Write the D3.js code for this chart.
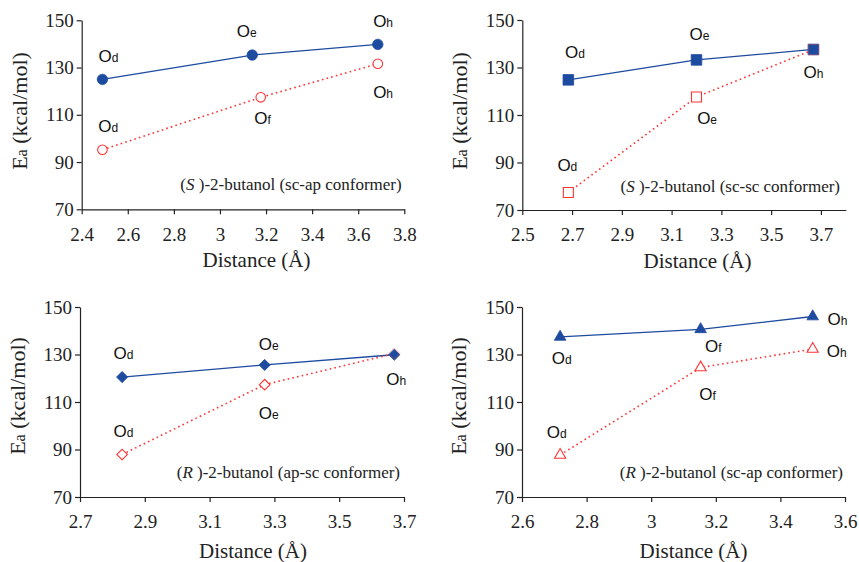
<!DOCTYPE html>
<html><head><meta charset="utf-8">
<script src="https://cdn.jsdelivr.net/npm/d3@7"></script>
<style>
body{margin:0;background:#fff}svg{display:block}
.serif{font-family:"Liberation Serif","Times New Roman","Nimbus Roman","DejaVu Serif",serif}
.sans{font-family:"Liberation Sans",Arial,Helvetica,sans-serif}
</style>
</head><body>
<svg id="c" width="859" height="562"></svg>
<script>
// ---------- data ----------
const yTicks = [70, 90, 110, 130, 150];

// Panel 1: (S)-2-butanol (sc-ap conformer)
const p1Ticks = [2.4, 2.6, 2.8, 3.0, 3.2, 3.4, 3.6, 3.8];
const p1BlueX = [2.49, 3.14, 3.685];
const p1Blue  = [125.0, 135.3, 139.8];
const p1RedX  = [2.49, 3.177, 3.685];
const p1Red   = [95.2, 117.4, 131.6];
const p1BlueLab = ["d", "e", "h"];
const p1RedLab  = ["d", "f", "h"];

// Panel 2: (S)-2-butanol (sc-sc conformer)
const p2Ticks = [2.5, 2.7, 2.9, 3.1, 3.3, 3.5, 3.7];
const p2BlueX = [2.685, 3.2, 3.67];
const p2Blue  = [124.8, 133.2, 137.6];
const p2RedX  = [2.685, 3.2, 3.67];
const p2Red   = [77.4, 117.6, 137.5];
const p2BlueLab = ["d", "e", "h"];
const p2RedLab  = ["d", "e", null];

// Panel 3: (R)-2-butanol (ap-sc conformer)
const p3Ticks = [2.7, 2.9, 3.1, 3.3, 3.5, 3.7];
const p3BlueX = [2.83, 3.27, 3.67];
const p3Blue  = [120.5, 125.6, 129.9];
const p3RedX  = [2.83, 3.27, 3.67];
const p3Red   = [87.9, 117.3, 130.4];
const p3BlueLab = ["d", "e", "h"];
const p3RedLab  = ["d", "e", null];

// Panel 4: (R)-2-butanol (sc-ap conformer)
const p4Ticks = [2.6, 2.8, 3.0, 3.2, 3.4, 3.6];
const p4BlueX = [2.718, 3.153, 3.5];
const p4Blue  = [137.4, 140.6, 146.0];
const p4RedX  = [2.718, 3.153, 3.5];
const p4Red   = [87.7, 124.5, 132.3];
const p4BlueLab = ["d", "f", "h"];
const p4RedLab  = ["d", "f", "h"];

const annotations = [
  ["S", ")-2-butanol (sc-ap conformer)"],
  ["S", ")-2-butanol (sc-sc conformer)"],
  ["R", ")-2-butanol (ap-sc conformer)"],
  ["R", ")-2-butanol (sc-ap conformer)"]
];

// ---------- layout ----------
const BLUE = "#1d4b9f", RED = "#ff3333", AXIS = "#222";

const layout = [
  {xr: [81.7, 404.3], yr: [209.3, 20.3], xd: [2.4, 3.8], shape: "circle",
   annX: 401.7, annY: 190, yTitle: [27, 111], xTitle: [256.5, 267],
   blueOff: [[6, -17], [-5.5, -18.3], [5.3, -17.6]],
   redOff:  [[5.7, -18], [1.8, 26.7], [5.3, 34.6]]},
  {xr: [522.3, 845.8], yr: [210, 20], xd: [2.5, 3.8], shape: "square",
   annX: 840, annY: 192, yTitle: [466.5, 111], xTitle: [697.5, 268],
   blueOff: [[6.7, -22.3], [3, -20], [0, 28.3]],
   redOff:  [[-1, -21.7], [10.6, 27.3], null]},
  {xr: [80, 404], yr: [497, 307], xd: [2.7, 3.7], shape: "diamond",
   annX: 400, annY: 478, yTitle: [25, 396], xTitle: [253, 557.5],
   blueOff: [[1.3, -18], [4, -15], [2, 30]],
   redOff:  [[1.3, -17], [4, 34.6], null]},
  {xr: [522, 845], yr: [497, 307], xd: [2.6, 3.6], shape: "triangle",
   annX: 843, annY: 478, yTitle: [465.5, 396], xTitle: [693.5, 557.5],
   blueOff: [[1.7, 27.3], [12.6, 22.7], [24.8, 8.3]],
   redOff:  [[-3.3, -17], [7, 32.3], [24, 7.7]]}
];

const dataSets = [
  {ticks: p1Ticks, bx: p1BlueX, by: p1Blue, rx: p1RedX, ry: p1Red, bl: p1BlueLab, rl: p1RedLab},
  {ticks: p2Ticks, bx: p2BlueX, by: p2Blue, rx: p2RedX, ry: p2Red, bl: p2BlueLab, rl: p2RedLab},
  {ticks: p3Ticks, bx: p3BlueX, by: p3Blue, rx: p3RedX, ry: p3Red, bl: p3BlueLab, rl: p3RedLab},
  {ticks: p4Ticks, bx: p4BlueX, by: p4Blue, rx: p4RedX, ry: p4Red, bl: p4BlueLab, rl: p4RedLab}
];

const svg = d3.select("#c");
const fmt = v => Math.abs(v - Math.round(v)) < 1e-9 ? String(Math.round(v)) : v.toFixed(1);

function marker(g, shape, filled, color, x, y) {
  let sym, size, rot = 0;
  if (shape === "circle") { sym = d3.symbolCircle; size = filled ? 85 : 72; }
  else if (shape === "square") { sym = d3.symbolSquare; size = filled ? 112 : 100; }
  else if (shape === "diamond") { sym = d3.symbolSquare; size = filled ? 62 : 56; rot = 45; }
  else { sym = d3.symbolTriangle; size = filled ? 58 : 54; }
  g.append("path")
    .attr("d", d3.symbol().type(sym).size(size)())
    .attr("transform", `translate(${x},${y}) rotate(${rot})`)
    .attr("fill", filled ? color : "#fff")
    .attr("stroke", color)
    .attr("stroke-width", filled ? 0.8 : 1.1);
}

function oLabel(g, x, y, sub) {
  const t = g.append("text").attr("class", "sans").attr("x", x).attr("y", y)
    .attr("text-anchor", "middle")
    .style("font-size", "17px").attr("fill", "#111");
  t.append("tspan").text("O");
  t.append("tspan").style("font-size", "12px").text(sub);
}

layout.forEach((L, i) => {
  const D = dataSets[i];
  const x = d3.scaleLinear().domain(L.xd).range(L.xr);
  const y = d3.scaleLinear().domain([70, 150]).range(L.yr);
  const g = svg.append("g");

  // axes
  const ax = g.append("g").attr("transform", `translate(0,${L.yr[0]})`)
    .call(d3.axisBottom(x).tickValues(D.ticks).tickFormat(fmt).tickSize(5).tickSizeOuter(0).tickPadding(13));
  const ay = g.append("g").attr("transform", `translate(${L.xr[0]},0)`)
    .call(d3.axisLeft(y).tickValues(yTicks).tickSize(5).tickSizeOuter(0).tickPadding(3));
  [ax, ay].forEach(a => {
    a.attr("font-family", null).attr("font-size", null);
    a.select(".domain").attr("stroke", AXIS).attr("stroke-width", 1.2);
    a.selectAll(".tick line").attr("stroke", AXIS).attr("stroke-width", 1.2);
    a.selectAll(".tick text").attr("class", "serif").style("font-size", "19px").attr("fill", "#222");
  });

  // axis titles
  g.append("text").attr("class", "serif").attr("x", L.xTitle[0]).attr("y", L.xTitle[1])
    .attr("text-anchor", "middle").style("font-size", "21px")
    .attr("fill", "#222").text("Distance (Å)");
  const yt = g.append("text").attr("class", "serif")
    .attr("transform", `translate(${L.yTitle[0]},${L.yTitle[1]}) rotate(-90)`)
    .attr("text-anchor", "middle").style("font-size", "22px")
    .attr("fill", "#222");
  yt.append("tspan").text("E");
  yt.append("tspan").style("font-size", "16px").text("a");
  yt.append("tspan").text(" (kcal/mol)");

  // annotation
  const an = g.append("text").attr("class", "serif").attr("x", L.annX).attr("y", L.annY)
    .attr("text-anchor", "end").style("font-size", "17px").attr("fill", "#222");
  an.append("tspan").text("(");
  an.append("tspan").style("font-style", "italic").text(annotations[i][0]);
  an.append("tspan").text(" " + annotations[i][1]);

  // lines
  const bPts = D.bx.map((v, k) => [x(v), y(D.by[k])]);
  const rPts = D.rx.map((v, k) => [x(v), y(D.ry[k])]);
  g.append("path").attr("d", d3.line()(bPts)).attr("fill", "none")
    .attr("stroke", BLUE).attr("stroke-width", 1.3);
  g.append("path").attr("d", d3.line()(rPts)).attr("fill", "none")
    .attr("stroke", RED).attr("stroke-width", 1.6).attr("stroke-dasharray", "1.6,3.2");

  // markers
  bPts.forEach(p => marker(g, L.shape, true, BLUE, p[0], p[1]));
  rPts.forEach((p, k) => {
    if (D.rl[k] === null) {
      g.append("path")
        .attr("d", d3.symbol().type(d3.symbolSquare).size(L.shape === "square" ? 112 : 62)())
        .attr("transform", `translate(${p[0]},${p[1]}) rotate(${L.shape === "diamond" ? 45 : 0})`)
        .attr("fill", "none").attr("stroke", RED).attr("stroke-width", 0.6).attr("stroke-opacity", 0.6);
    } else {
      marker(g, L.shape, false, RED, p[0], p[1]);
    }
  });

  // O labels
  bPts.forEach((p, k) => { if (D.bl[k]) oLabel(g, p[0] + L.blueOff[k][0], p[1] + L.blueOff[k][1], D.bl[k]); });
  rPts.forEach((p, k) => { if (D.rl[k]) oLabel(g, p[0] + L.redOff[k][0], p[1] + L.redOff[k][1], D.rl[k]); });
});
</script>
</body></html>
